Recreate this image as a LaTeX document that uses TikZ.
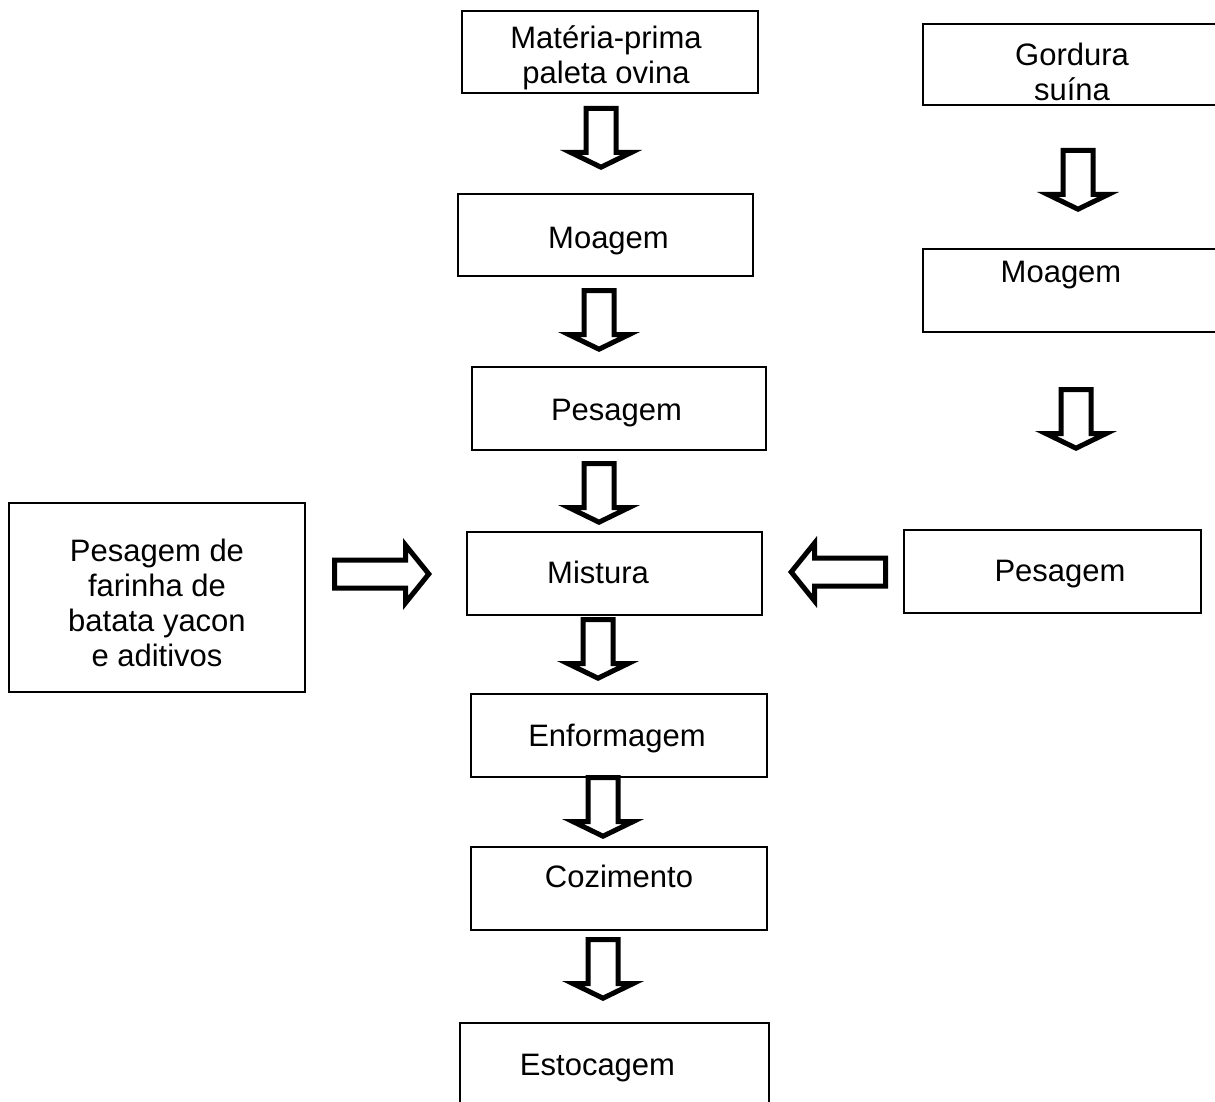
\documentclass[tikz,border=0pt]{standalone}
\usepackage{fontspec}
\setmainfont{Liberation Sans}
\usetikzlibrary{calc}
\tikzset{
  font=\fontsize{31}{35}\selectfont,
  %
  box/.style={draw=black, line width=2pt, fill=white, inner sep=0pt},
  lbl/.style={text=black, inner sep=0pt, align=center},
  %
  blockarrow/.style={draw=black, line width=5pt, fill=white, line join=miter},
  pics/downarrow/.style={code={
    \draw[blockarrow] (-15,2.5) -- (15,2.5) -- (15,46.5) -- (30.2,46.5)
      -- (0,61.2) -- (-30.2,46.5) -- (-15,46.5) -- cycle;
  }},
  pics/sidearrow/.style={code={
    \draw[blockarrow] (2.5,-14) -- (73.5,-14) -- (73.5,-28.9) -- (96.8,0)
      -- (73.5,28.9) -- (73.5,14) -- (2.5,14) -- cycle;
  }},
}

\begin{document}
\begin{tikzpicture}[x=1pt, y=-1pt]

  \clip (0,0) rectangle (1215,1102);

  % main line
  \node[box, minimum width=296pt, minimum height=82pt] (mat) at (610,52) {};
  \node[box, minimum width=295pt, minimum height=82pt] (moa1) at (605.5,235) {};
  \node[box, minimum width=294pt, minimum height=83pt] (pes1) at (619,408.5) {};
  \node[box, minimum width=295pt, minimum height=83pt] (mis) at (614.5,573.5) {};
  \node[box, minimum width=296pt, minimum height=83pt] (enf) at (619,735.5) {};
  \node[box, minimum width=296pt, minimum height=83pt] (coz) at (619,888.5) {};
  \node[box, minimum width=309pt, minimum height=83pt] (est) at (614.5,1064.5) {};

  \node[lbl] (mat-t) at ($(mat)+(-4,6)$) {Matéria-prima\\paleta ovina};
  \node[lbl, anchor=base] (moa1-t) at ($(moa1)+(3,13)$) {Moagem};
  \node[lbl, anchor=base] (pes1-t) at ($(pes1)+(-2.5,11.5)$) {Pesagem};
  \node[lbl, anchor=base] (mis-t) at ($(mis)+(-16.5,9.5)$) {Mistura};
  \node[lbl, anchor=base] (enf-t) at ($(enf)+(-2,10.5)$) {Enformagem};
  \node[lbl, anchor=base] (coz-t) at ($(coz)+(0,-1.5)$) {Cozimento};
  \node[lbl, anchor=base] (est-t) at ($(est)+(-17,10.5)$) {Estocagem};

  % fat branch
  \node[box, minimum width=295pt, minimum height=81pt] (gord) at (1070.5,64.5) {};
  \node[box, minimum width=295pt, minimum height=83pt] (moa2) at (1070.5,290.5) {};
  \node[box, minimum width=297pt, minimum height=83pt] (pes2) at (1052.5,571.5) {};

  \node[lbl] (gord-t) at ($(gord)+(1.5,7)$) {Gordura\\suína};
  \node[lbl, anchor=base] (moa2-t) at ($(moa2)+(-9.5,-8.5)$) {Moagem};
  \node[lbl, anchor=base] (pes2-t) at ($(pes2)+(7.5,9.5)$) {Pesagem};

  % flour and additives
  \node[box, minimum width=296pt, minimum height=189pt] (far) at (157,597.5) {};
  \node[lbl] (far-t) at ($(far)+(0,5)$)
    {Pesagem de\\farinha de\\batata yacon\\e aditivos};

  % block arrows
  \pic at (601,106) {downarrow};
  \pic at (599,288) {downarrow};
  \pic at (599,461) {downarrow};
  \pic at (598,617) {downarrow};
  \pic at (603,775) {downarrow};
  \pic at (603,937) {downarrow};
  \pic at (1078,148) {downarrow};
  \pic at (1076,387) {downarrow};
  \pic at (332,574) {sidearrow};
  \pic[rotate=180] at (888,572) {sidearrow};

\end{tikzpicture}
\end{document}
